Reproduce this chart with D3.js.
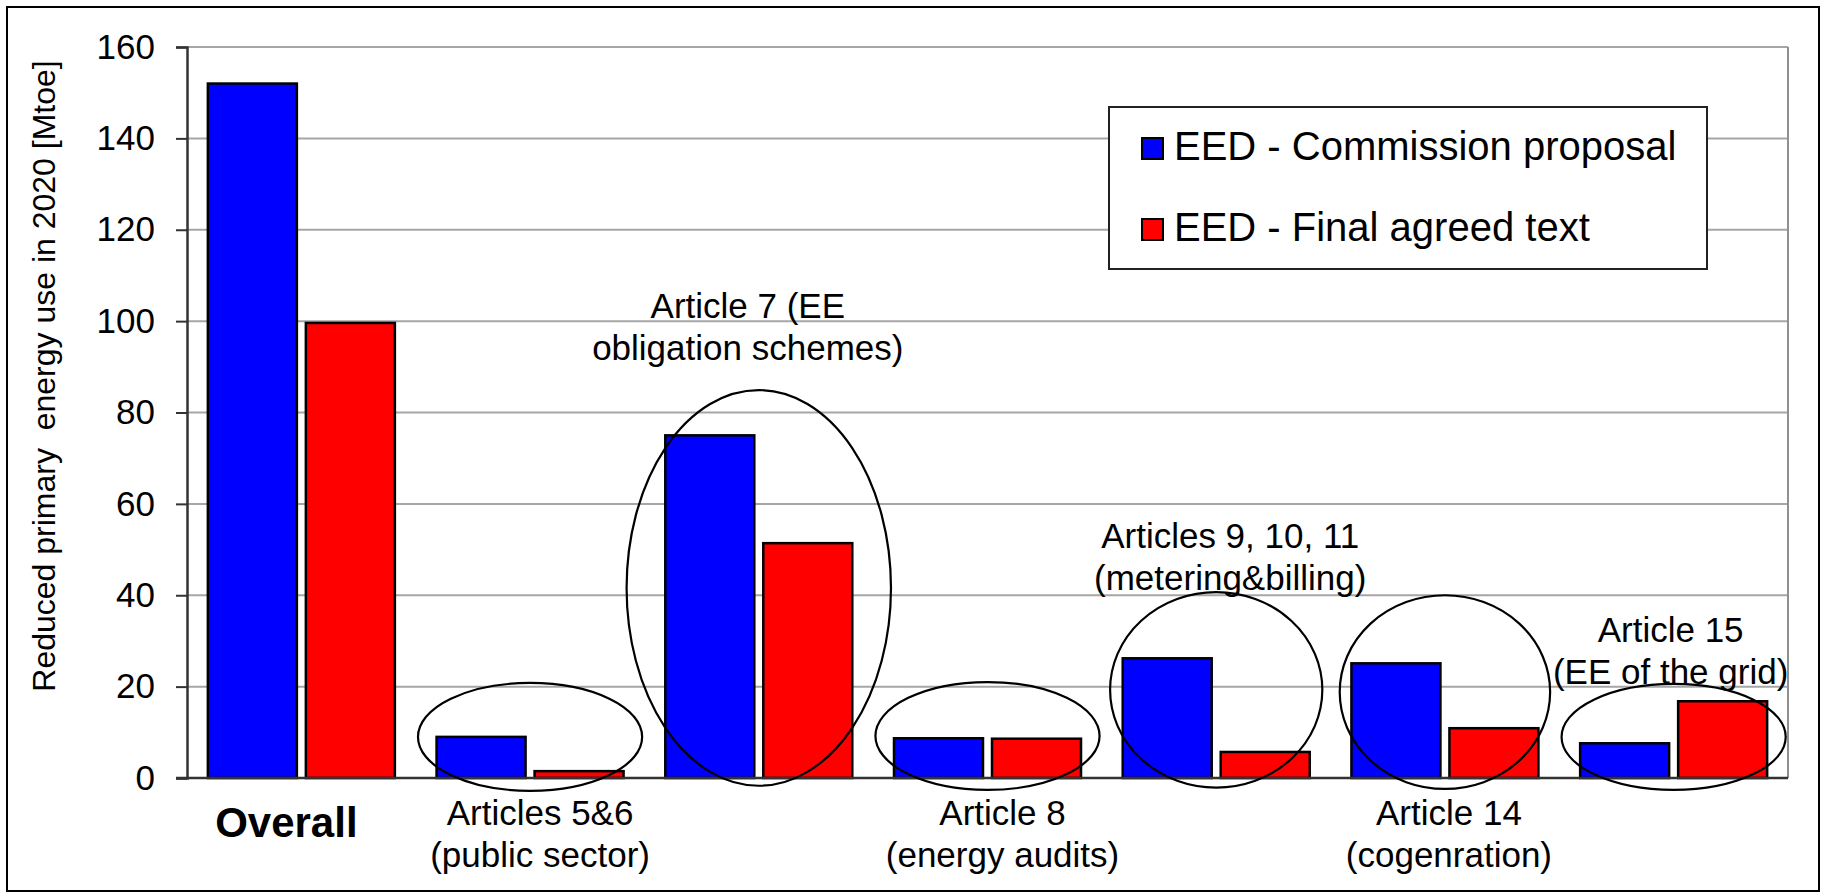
<!DOCTYPE html>
<meta charset="utf-8">
<head>
  <title>EED savings by article</title>
</head>
<style>
  body { margin: 0; background: #fff; }
  text { font-family: "Liberation Sans", Arial, sans-serif; fill: #000; }
</style>
<body>
<svg width="1822" height="894"></svg>
<script src="https://cdn.jsdelivr.net/npm/d3@7"></script>
<script>

// data (Mtoe)
var categories = ["Overall", "Articles 5&6", "Article 7", "Article 8", "Articles 9-11", "Article 14", "Article 15"];
var commission = [152, 9, 75, 8.7, 26.2, 25.1, 7.6];
var finalText  = [99.6, 1.5, 51.4, 8.6, 5.7, 10.9, 16.8];
var seriesNames = ["EED - Commission proposal", "EED - Final agreed text"];
var seriesColors = ["#0000ff", "#ff0000"];
var yTicks = [0, 20, 40, 60, 80, 100, 120, 140, 160];

// labels under the axis and above the bars
var bottomLabels = [
  {cat: 0, lines: ["Overall"], bold: true, dx: -15},
  {cat: 1, lines: ["Articles 5&6", "(public sector)"], dx: 10},
  {cat: 3, lines: ["Article 8", "(energy audits)"], dx: 15},
  {cat: 5, lines: ["Article 14", "(cogenration)"], dx: 4}
];
var topLabels = [
  {cat: 2, lines: ["Article 7 (EE", "obligation schemes)"], v: 100.7, dx: -11},
  {cat: 4, lines: ["Articles 9, 10, 11", "(metering&billing)"], v: 50.3, dx: 14},
  {cat: 6, lines: ["Article 15", "(EE of the grid)"], v: 29.8, dx: -3}
];
// ellipses round groups: centre value, half height (value units), half width (band share)
var rings = [
  {cat: 1, v: 9.0, dv: 11.8, w: 0.49},
  {cat: 2, v: 41.6, dv: 43.3, w: 0.578},
  {cat: 3, v: 9.2, dv: 11.8, w: 0.49},
  {cat: 4, v: 19.3, dv: 21.4, w: 0.464},
  {cat: 5, v: 18.8, dv: 21.2, w: 0.46},
  {cat: 6, v: 9.0, dv: 11.6, w: 0.49}
];

var svg = d3.select("svg");
var plotL = 187, plotR = 1788, plotT = 47, plotB = 778;

svg.append("rect")
  .attr("x", 7).attr("y", 7).attr("width", 1812).attr("height", 884)
  .attr("fill", "none").attr("stroke", "#000").attr("stroke-width", 2);

var x = d3.scaleBand().domain(d3.range(categories.length)).range([plotL, plotR]);
var y = d3.scaleLinear().domain([0, 160]).range([plotB, plotT]);
var bw = 89, gap = 9;

// gridlines
svg.append("g").selectAll("line")
  .data(yTicks.filter(function(d) { return d > 0; }))
  .enter().append("line")
  .attr("x1", plotL).attr("x2", plotR)
  .attr("y1", function(d) { return y(d); })
  .attr("y2", function(d) { return y(d); })
  .attr("stroke", "#a6a6a6").attr("stroke-width", 2);

// right border
svg.append("line")
  .attr("x1", plotR).attr("x2", plotR).attr("y1", plotT).attr("y2", plotB)
  .attr("stroke", "#909090").attr("stroke-width", 2);

// y axis
var yAxis = d3.axisLeft(y).tickValues(yTicks).tickSize(11).tickPadding(21);
var ga = svg.append("g").attr("transform", "translate(" + plotL + ",0)").call(yAxis);
ga.select(".domain").attr("stroke", "#333").attr("stroke-width", 2.5);
ga.selectAll(".tick line").attr("stroke", "#333").attr("stroke-width", 2);
ga.selectAll(".tick text")
  .style("font-family", "Liberation Sans, Arial, sans-serif")
  .style("font-size", "35px").attr("fill", "#000");

svg.append("text")
  .attr("transform", "translate(55,376) rotate(-90)")
  .attr("text-anchor", "middle")
  .style("font-size", "32px")
  .attr("xml:space", "preserve")
  .text("Reduced primary  energy use in 2020 [Mtoe]");

// bars
var series = [commission, finalText];
series.forEach(function(vals, s) {
  svg.append("g").selectAll("rect")
    .data(vals)
    .enter().append("rect")
    .attr("x", function(d, i) {
      var c = x(i) + x.bandwidth() / 2;
      return s == 0 ? c - gap / 2 - bw : c + gap / 2;
    })
    .attr("y", function(d) { return y(d); })
    .attr("width", bw)
    .attr("height", function(d) { return y(0) - y(d); })
    .attr("fill", seriesColors[s])
    .attr("stroke", "#000").attr("stroke-width", 2.5);
});

// bottom axis line
svg.append("line")
  .attr("x1", plotL - 11).attr("x2", plotR).attr("y1", plotB).attr("y2", plotB)
  .attr("stroke", "#333").attr("stroke-width", 2.5);

// ellipses
svg.append("g").selectAll("ellipse")
  .data(rings)
  .enter().append("ellipse")
  .attr("cx", function(d) { return x(d.cat) + x.bandwidth() / 2; })
  .attr("cy", function(d) { return y(d.v); })
  .attr("rx", function(d) { return d.w * x.bandwidth(); })
  .attr("ry", function(d) { return y(0) - y(d.dv); })
  .attr("fill", "none").attr("stroke", "#000").attr("stroke-width", 2.2);

// category labels
function addLabel(d, baseY) {
  var t = svg.append("text")
    .attr("text-anchor", "middle")
    .style("font-size", d.bold ? "42px" : "35px")
    .style("font-weight", d.bold ? "bold" : "normal");
  d.lines.forEach(function(line, k) {
    t.append("tspan")
      .attr("x", x(d.cat) + x.bandwidth() / 2 + d.dx)
      .attr("y", baseY + k * 42)
      .text(line);
  });
}
bottomLabels.forEach(function(d) { addLabel(d, d.bold ? 837 : 825); });
topLabels.forEach(function(d) { addLabel(d, y(d.v)); });

// legend
var lg = svg.append("g");
lg.append("rect")
  .attr("x", 1109).attr("y", 107).attr("width", 598).attr("height", 162)
  .attr("fill", "#fff").attr("stroke", "#222").attr("stroke-width", 2);
seriesNames.forEach(function(name, i) {
  lg.append("rect")
    .attr("x", 1142).attr("y", 138 + i * 81).attr("width", 21).attr("height", 21)
    .attr("fill", seriesColors[i]).attr("stroke", "#000").attr("stroke-width", 2);
  lg.append("text")
    .attr("x", 1174).attr("y", 160 + i * 81)
    .style("font-size", "40px")
    .text(name);
});

</script>
</body>
</html>
